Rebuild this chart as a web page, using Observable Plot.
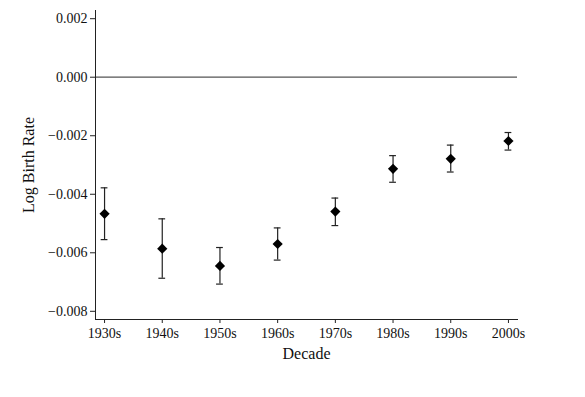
<!DOCTYPE html>
<html>
<head>
<meta charset="utf-8">
<script src="https://cdn.jsdelivr.net/npm/d3@7"></script>
<script src="https://cdn.jsdelivr.net/npm/@observablehq/plot@0.6"></script>
<style>
  html, body { margin: 0; padding: 0; background: #fff; }
  #chart svg { display: block; }
</style>
</head>
<body>
<div id="chart"></div>
<script>
const decades = ["1930s", "1940s", "1950s", "1960s", "1970s", "1980s", "1990s", "2000s"];
const estimate = [-0.00467, -0.00586, -0.00645, -0.00570, -0.00459, -0.00313, -0.00279, -0.00218];
const upper    = [-0.00378, -0.00484, -0.00582, -0.00515, -0.00413, -0.00268, -0.00232, -0.00189];
const lower    = [-0.00555, -0.00687, -0.00707, -0.00625, -0.00507, -0.00359, -0.00324, -0.00249];
const yTicks = [0.002, 0, -0.002, -0.004, -0.006, -0.008];
const yDomain = [-0.00828, 0.00228];

const data = decades.map((d, i) => ({decade: d, est: estimate[i], hi: upper[i], lo: lower[i]}));

const font = "'Liberation Serif', 'Times New Roman', serif";

const chart = Plot.plot({
  width: 585,
  height: 397,
  marginLeft: 95,
  marginRight: 68,
  marginTop: 10,
  marginBottom: 78,
  style: {fontFamily: font, fontSize: "14px", color: "#111", background: "#fff"},
  x: {type: "band", domain: decades, paddingInner: 0.9, paddingOuter: 0.107, round: false, label: null},
  y: {domain: yDomain, label: null},
  marks: [
    Plot.ruleY([0], {stroke: "#555", strokeWidth: 1.2}),
    Plot.frame({anchor: "left", stroke: "#222"}),
    Plot.frame({anchor: "bottom", stroke: "#222"}),
    Plot.axisY({ticks: yTicks, tickFormat: d3.format(".3f"), tickSize: 5, tickPadding: 3, label: null, stroke: "#222"}),
    Plot.axisX({tickSize: 4, tickPadding: 5, label: null, stroke: "#222"}),
    Plot.ruleX(data, {x: "decade", y1: "lo", y2: "hi", stroke: "#222", strokeWidth: 1.2}),
    Plot.tickY(data, {x: "decade", y: "hi", stroke: "#222", strokeWidth: 1.2, insetLeft: -0.5, insetRight: -0.5}),
    Plot.tickY(data, {x: "decade", y: "lo", stroke: "#222", strokeWidth: 1.2, insetLeft: -0.5, insetRight: -0.5}),
    Plot.dot(data, {x: "decade", y: "est", symbol: "diamond2", r: 4.6, fill: "#000", stroke: "none"}),
    Plot.text(["Log Birth Rate"], {frameAnchor: "left", textAnchor: "middle", dx: -67, rotate: -90, fontSize: 16, fill: "#111"}),
    Plot.text(["Decade"], {frameAnchor: "bottom", dy: 39, fontSize: 16, fill: "#111"})
  ]
});
document.getElementById("chart").appendChild(chart);
</script>
</body>
</html>
